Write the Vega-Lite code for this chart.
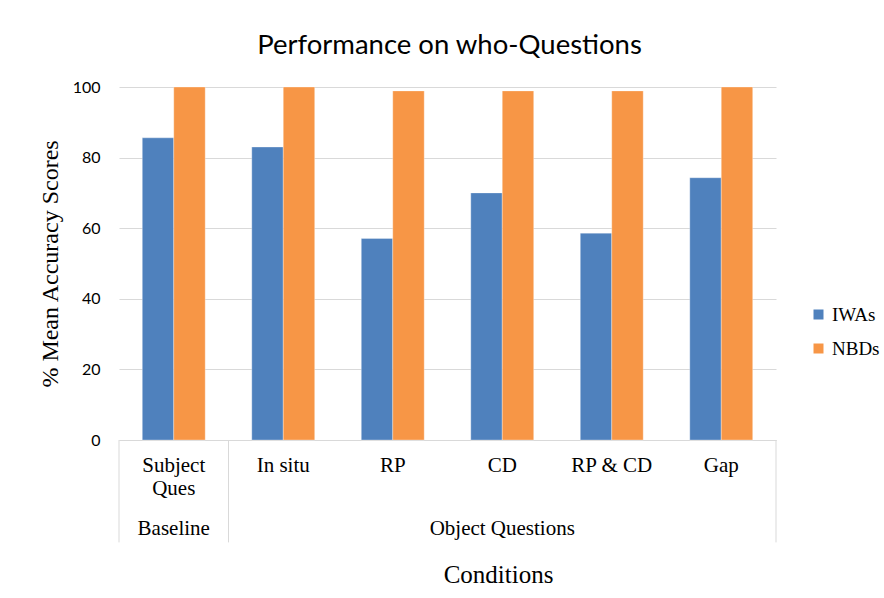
{
  "$schema": "https://vega.github.io/schema/vega-lite/v6.json",
  "width": 657,
  "height": 353,
  "autosize": {"type": "none"},
  "padding": {"left": 119, "top": 87, "right": 108, "bottom": 158},
  "background": "white",
  "title": {
    "text": "Performance on who-Questions",
    "font": "Lato",
    "fontSize": 27.5,
    "fontWeight": "normal",
    "color": "#000000",
    "anchor": "middle",
    "offset": 20,
    "dx": 2
  },
  "config": {"view": {"stroke": null}},
  "datasets": {
    "scores": [
      {"condition": "Subject Ques", "participants": "IWAs", "score": 85.6},
      {"condition": "Subject Ques", "participants": "NBDs", "score": 100},
      {"condition": "In situ", "participants": "IWAs", "score": 83.0},
      {"condition": "In situ", "participants": "NBDs", "score": 100},
      {"condition": "RP", "participants": "IWAs", "score": 57.1},
      {"condition": "RP", "participants": "NBDs", "score": 98.9},
      {"condition": "CD", "participants": "IWAs", "score": 70.0},
      {"condition": "CD", "participants": "NBDs", "score": 98.9},
      {"condition": "RP & CD", "participants": "IWAs", "score": 58.6},
      {"condition": "RP & CD", "participants": "NBDs", "score": 98.9},
      {"condition": "Gap", "participants": "IWAs", "score": 74.3},
      {"condition": "Gap", "participants": "NBDs", "score": 100}
    ],
    "questionTypes": [
      {"condition": "Subject Ques", "questionType": "Baseline"},
      {"condition": "CD", "questionType": "Object Questions"}
    ],
    "groupStarts": [
      {"condition": "Subject Ques"},
      {"condition": "In situ"}
    ],
    "groupEnds": [
      {"condition": "Gap"}
    ]
  },
  "layer": [
    {
      "data": {"name": "scores"},
      "mark": {"type": "bar", "stroke": "#ffffff", "strokeWidth": 0.8, "strokeOpacity": 0.4},
      "encoding": {
        "x": {
          "field": "condition",
          "type": "nominal",
          "sort": ["Subject Ques", "In situ", "RP", "CD", "RP & CD", "Gap"],
          "scale": {"paddingInner": 0, "paddingOuter": 0},
          "title": "Conditions",
          "axis": {
            "labelAngle": 0,
            "labelFont": "Liberation Serif",
            "labelFontSize": 21,
            "labelColor": "#000000",
            "labelPadding": 14,
            "labelLineHeight": 23,
            "labelExpr": "datum.value == 'Subject Ques' ? ['Subject', 'Ques'] : datum.label",
            "ticks": false,
            "tickSize": 0,
            "domainColor": "#d9d9d9",
            "domainWidth": 1,
            "grid": false,
            "titleFont": "Liberation Serif",
            "titleFontSize": 25,
            "titleFontWeight": "normal",
            "titleColor": "#000000",
            "titleX": 379,
            "titleY": 134,
            "titleBaseline": "middle"
          }
        },
        "xOffset": {
          "field": "participants",
          "type": "nominal",
          "sort": ["IWAs", "NBDs"],
          "scale": {"paddingInner": 0, "paddingOuter": 0.74}
        },
        "y": {
          "field": "score",
          "type": "quantitative",
          "scale": {"domain": [0, 100]},
          "title": "% Mean Accuracy Scores",
          "axis": {
            "values": [0, 20, 40, 60, 80, 100],
            "grid": true,
            "gridColor": "#d9d9d9",
            "gridWidth": 1,
            "domain": false,
            "ticks": false,
            "tickSize": 0,
            "labelFont": "Lato",
            "labelFontSize": 16,
            "labelColor": "#000000",
            "labelPadding": 19,
            "titleFont": "Liberation Serif",
            "titleFontSize": 24,
            "titleFontWeight": "normal",
            "titleColor": "#000000",
            "titlePadding": 10
          }
        },
        "color": {
          "field": "participants",
          "type": "nominal",
          "scale": {"domain": ["IWAs", "NBDs"], "range": ["#4F81BD", "#F79646"]},
          "legend": {
            "title": null,
            "orient": "none",
            "legendX": 690,
            "legendY": 218,
            "padding": 0,
            "symbolType": "square",
            "symbolSize": 100,
            "symbolStrokeWidth": 0,
            "labelFont": "Liberation Serif",
            "labelFontSize": 19,
            "labelColor": "#000000",
            "labelOffset": 4,
            "rowPadding": 14
          }
        }
      }
    },
    {
      "data": {"name": "questionTypes"},
      "mark": {"type": "text", "font": "Liberation Serif", "fontSize": 21, "color": "#000000", "baseline": "middle", "dy": 89},
      "encoding": {
        "x": {"field": "condition", "type": "nominal", "sort": ["Subject Ques", "In situ", "RP", "CD", "RP & CD", "Gap"], "title": "Conditions"},
        "y": {"datum": 0, "type": "quantitative", "title": "% Mean Accuracy Scores"},
        "text": {"field": "questionType"}
      }
    },
    {
      "data": {"name": "groupStarts"},
      "mark": {"type": "rule", "color": "#d9d9d9", "strokeWidth": 1},
      "encoding": {
        "x": {"field": "condition", "type": "nominal", "bandPosition": 0, "sort": ["Subject Ques", "In situ", "RP", "CD", "RP & CD", "Gap"], "title": "Conditions"},
        "y": {"datum": 0, "type": "quantitative", "title": "% Mean Accuracy Scores"},
        "y2": {"datum": -29}
      }
    },
    {
      "data": {"name": "groupEnds"},
      "mark": {"type": "rule", "color": "#d9d9d9", "strokeWidth": 1},
      "encoding": {
        "x": {"field": "condition", "type": "nominal", "bandPosition": 1, "sort": ["Subject Ques", "In situ", "RP", "CD", "RP & CD", "Gap"], "title": "Conditions"},
        "y": {"datum": 0, "type": "quantitative", "title": "% Mean Accuracy Scores"},
        "y2": {"datum": -29}
      }
    }
  ]
}
